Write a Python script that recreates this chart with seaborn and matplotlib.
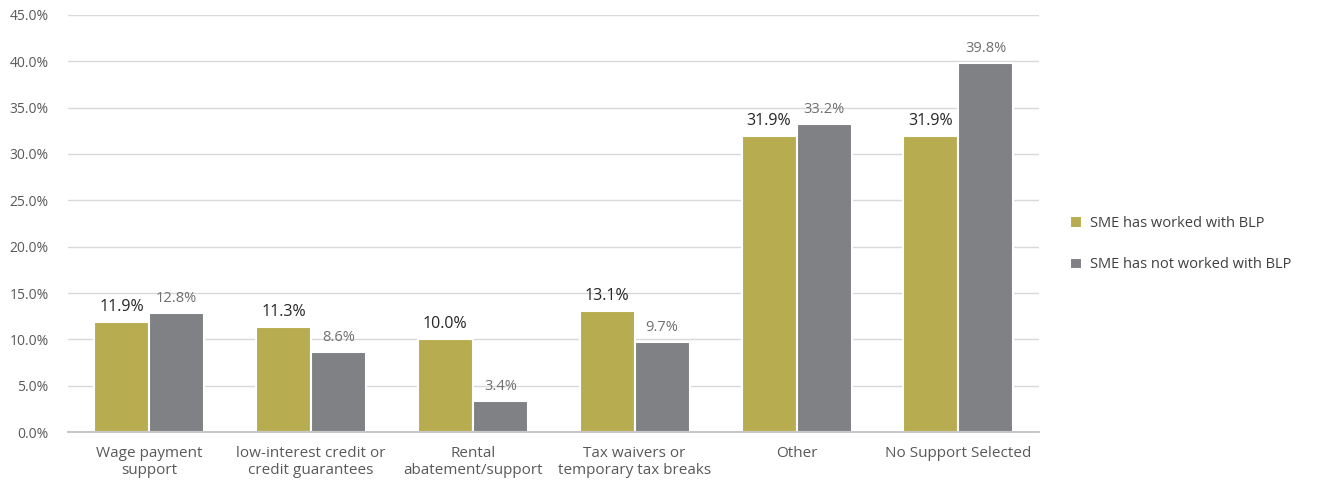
import matplotlib
matplotlib.use("Agg")
import matplotlib.pyplot as plt
import numpy as np
import pandas as pd
import seaborn as sns
from matplotlib.ticker import FuncFormatter, FixedLocator

categories = [
    "Wage payment\nsupport",
    "low-interest credit or\ncredit guarantees",
    "Rental\nabatement/support",
    "Tax waivers or\ntemporary tax breaks",
    "Other",
    "No Support Selected",
]
series_names = ["SME has worked with BLP", "SME has not worked with BLP"]
worked = [11.9, 11.3, 10.0, 13.1, 31.9, 31.9]
not_worked = [12.8, 8.6, 3.4, 9.7, 33.2, 39.8]

df = pd.DataFrame({
    "category": categories * 2,
    "group": [series_names[0]] * len(categories) + [series_names[1]] * len(categories),
    "value": worked + not_worked,
})

sns.set_theme(style="white")
plt.rcParams["font.family"] = ["Open Sans", "DejaVu Sans"]

colors = ["#B8AC50", "#808184"]
fig = plt.figure(figsize=(13.19, 4.82), dpi=100)
ax = fig.add_axes([0.0516, 0.1037, 0.7364, 0.8652])

sns.barplot(data=df, x="category", y="value", hue="group", hue_order=series_names,
            palette=colors, width=0.68, gap=0.0, ax=ax, edgecolor="white",
            linewidth=1.5, saturation=1)

ax.set_ylim(0, 45)
ax.set_xlim(-0.5, len(categories) - 0.5)
ax.yaxis.set_major_locator(FixedLocator(np.arange(0, 45.1, 5)))
ax.yaxis.set_major_formatter(FuncFormatter(lambda v, p: f"{v:.1f}%"))
ax.yaxis.grid(True, color="#D9D9D9", linewidth=1)
ax.set_axisbelow(True)
ax.set_xlabel("")
ax.set_ylabel("")
for s in ["top", "right", "left"]:
    ax.spines[s].set_visible(False)
ax.spines["bottom"].set_color("#BFBFBF")
ax.tick_params(axis="y", length=0, labelsize=10, labelcolor="#595959", pad=14)
ax.tick_params(axis="x", length=0, labelsize=11, labelcolor="#595959", pad=10)
ax.set_xticks(np.arange(-0.5, len(categories), 1.0), minor=True)
ax.tick_params(axis="x", which="minor", length=5, color="#BFBFBF", width=1)

# value labels
for cont, fs, tc in zip(ax.containers, [11.5, 10.5], ["#262626", "#6F6F6F"]):
    vals = cont.datavalues
    ax.bar_label(cont, labels=[f"{v:.1f}%" for v in vals], padding=5,
                 fontsize=fs, color=tc)

leg = ax.legend(loc="center left", bbox_to_anchor=(1.018, 0.45), frameon=False,
                fontsize=10.5, handlelength=0.85, handleheight=0.85,
                handletextpad=0.5, labelspacing=1.8)
for t in leg.get_texts():
    t.set_color("#404040")

fig.savefig("out.png", dpi=100)
